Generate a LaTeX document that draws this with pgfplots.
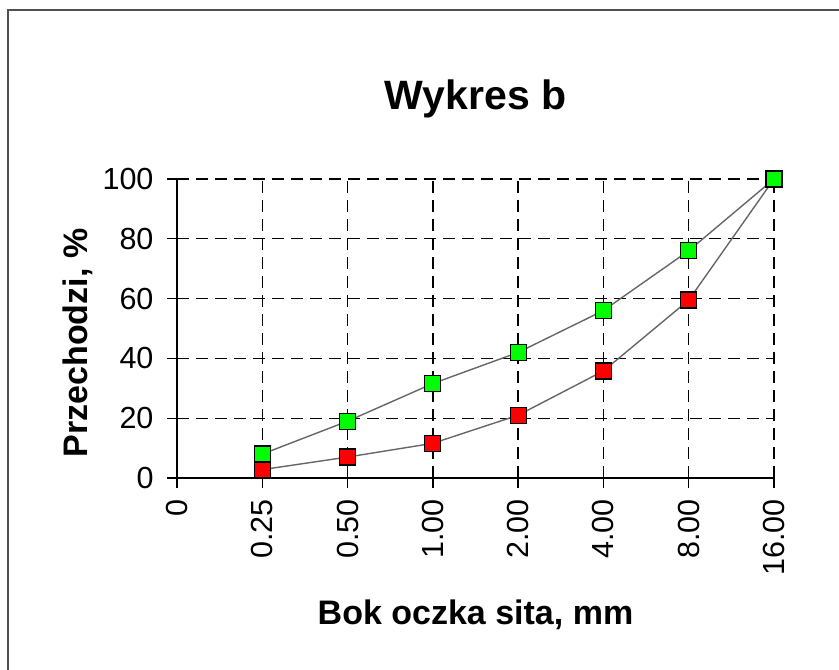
\documentclass[border=0pt]{standalone}
\usepackage{fontspec}
\setmainfont{Liberation Sans}
\usepackage{pgfplots}
\pgfplotsset{compat=1.18}
\definecolor{mkgreen}{RGB}{0,255,0}
\definecolor{mkred}{RGB}{255,0,0}
\definecolor{framegray}{RGB}{80,80,80}
\begin{document}
\begin{tikzpicture}[x=1pt,y=1pt]
\useasboundingbox (0,0) rectangle (839,670);
\draw[line width=2pt, framegray] (8,-2) -- (8,660) -- (841,660);
\begin{axis}[
  at={(177pt,192pt)}, anchor=south west,
  scale only axis, width=597pt, height=299pt,
  xmin=0, xmax=7, ymin=0, ymax=100,
  axis x line*=bottom, axis y line*=left,
  axis line style={line width=1.3pt, black, -},
  xtick={0,1,2,3,4,5,6,7},
  xticklabels={0,0.25,0.50,1.00,2.00,4.00,8.00,16.00},
  ytick={0,20,40,60,80,100},
  grid=major,
  grid style={black, line width=1.3pt, dash pattern=on 12pt off 7pt},
  tick align=outside,
  major tick length=10pt,
  tick style={black, line width=1.3pt},
  /pgf/number format/assume math mode=true,
  tick label style={font=\fontsize{30.5}{36}\selectfont},
  x tick label style={rotate=90, anchor=east, yshift=0pt, xshift=-8pt},
  y tick label style={xshift=-10pt},
  clip=false,
]
\addplot[line width=1.4pt, color=black!60, mark=square*, mark size=8pt,
  mark options={draw=black, line width=1.2pt, fill=mkred, solid}]
  coordinates {(1,2.8) (2,7) (3,11.6) (4,21) (5,35.8) (6,59.5) (7,100)};
\addplot[line width=1.4pt, color=black!60, mark=square*, mark size=8pt,
  mark options={draw=black, line width=1.2pt, fill=mkgreen, solid}]
  coordinates {(1,8) (2,19) (3,31.6) (4,42) (5,56) (6,76) (7,100)};
\end{axis}
\node[anchor=base, font=\fontsize{41}{48}\selectfont\bfseries] at (475.5,560) {Wykres b};
\node[anchor=base, font=\fontsize{34}{40}\selectfont\bfseries] at (475.5,45) {Bok oczka sita, mm};
\node[rotate=90, anchor=base, font=\fontsize{34}{40}\selectfont\bfseries] at (87,327) {Przechodzi, \%};
\end{tikzpicture}
\end{document}
